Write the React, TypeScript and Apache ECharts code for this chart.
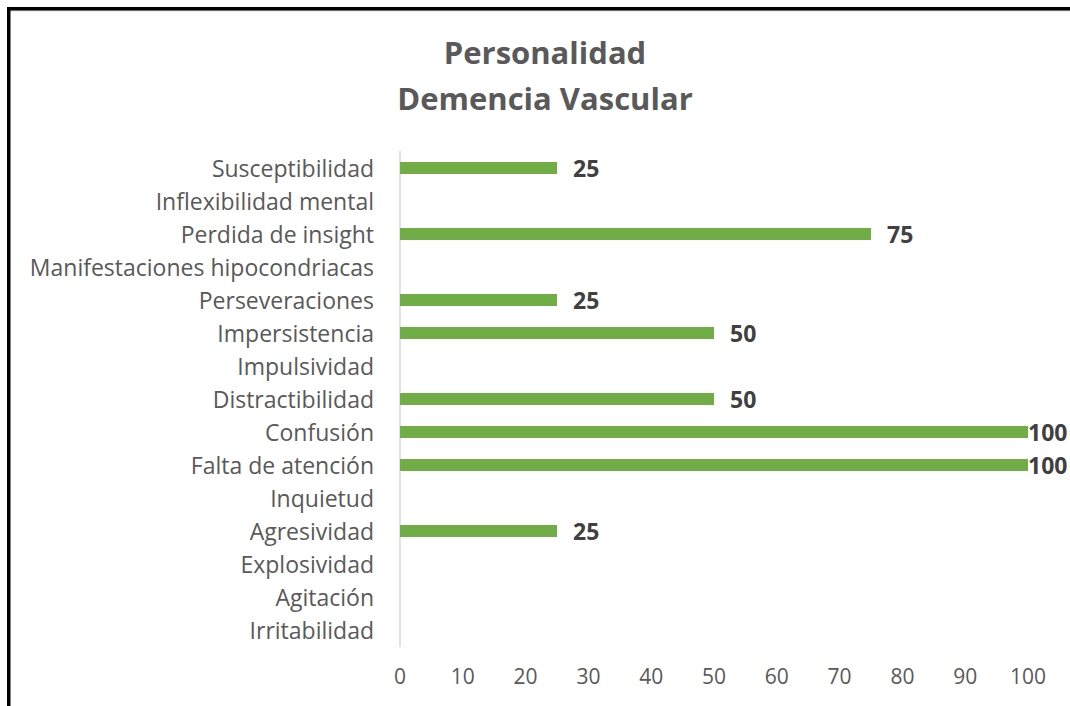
import React, { useEffect, useRef } from "react";
import * as echarts from "echarts";

const categories = [
  "Irritabilidad",
  "Agitación",
  "Explosividad",
  "Agresividad",
  "Inquietud",
  "Falta de atención",
  "Confusión",
  "Distractibilidad",
  "Impulsividad",
  "Impersistencia",
  "Perseveraciones",
  "Manifestaciones hipocondriacas",
  "Perdida de insight",
  "Inflexibilidad mental",
  "Susceptibilidad",
];
const values = [0, 0, 0, 25, 0, 100, 100, 50, 0, 50, 25, 0, 75, 0, 25];
const titleLines = ["Personalidad", "Demencia Vascular"];

const FONT = "'Open Sans', sans-serif";

export default function App() {
  const ref = useRef<HTMLDivElement>(null);
  useEffect(() => {
    const chart = echarts.init(ref.current!, null, { renderer: "svg" });
    chart.setOption({
      animation: false,
      backgroundColor: "#ffffff",
      title: {
        text: titleLines.join("\n"),
        left: 540,
        textAlign: "center",
        top: 24,
        textStyle: {
          fontFamily: FONT,
          fontSize: 31,
          fontWeight: "bold",
          color: "#595959",
          lineHeight: 46,
        },
      },
      graphic: [
        { type: "rect", shape: { x: 7, y: 10, width: 1063, height: 1.5 }, style: { fill: "#d9d9d9" } },
        { type: "rect", shape: { x: 7, y: 7, width: 1063, height: 3.5 }, style: { fill: "#000000" } },
        { type: "rect", shape: { x: 7, y: 7, width: 3.5, height: 699 }, style: { fill: "#000000" } },
      ],
      grid: { left: 400, right: 42, top: 151.5, bottom: 59.5, containLabel: false },
      xAxis: {
        type: "value",
        min: 0,
        max: 100,
        interval: 10,
        splitLine: { show: false },
        axisLine: { show: false },
        axisTick: { show: false },
        axisLabel: { color: "#595959", fontSize: 21, fontFamily: FONT, margin: 19 },
      },
      yAxis: {
        type: "category",
        data: categories,
        axisLine: { show: true, lineStyle: { color: "#d9d9d9", width: 1.5 } },
        axisTick: { show: false },
        axisLabel: { color: "#595959", fontSize: 23, fontFamily: FONT, margin: 26 },
      },
      series: [
        {
          type: "bar",
          data: values.map((v) => ({
            value: v,
            label: v >= 100 ? { distance: 0 } : {},
          })),
          barWidth: 12,
          itemStyle: { color: "#70ad47" },
          label: {
            show: true,
            position: "right",
            distance: 16,
            color: "#404040",
            fontSize: 23,
            fontWeight: "bold",
            fontFamily: FONT,
            formatter: (p: any) => (p.value ? String(p.value) : ""),
          },
        },
      ],
    });
    return () => chart.dispose();
  }, []);
  return (
    <div
      ref={ref}
      style={{ position: "fixed", left: 0, top: 0, width: 1070, height: 706 }}
    />
  );
}
